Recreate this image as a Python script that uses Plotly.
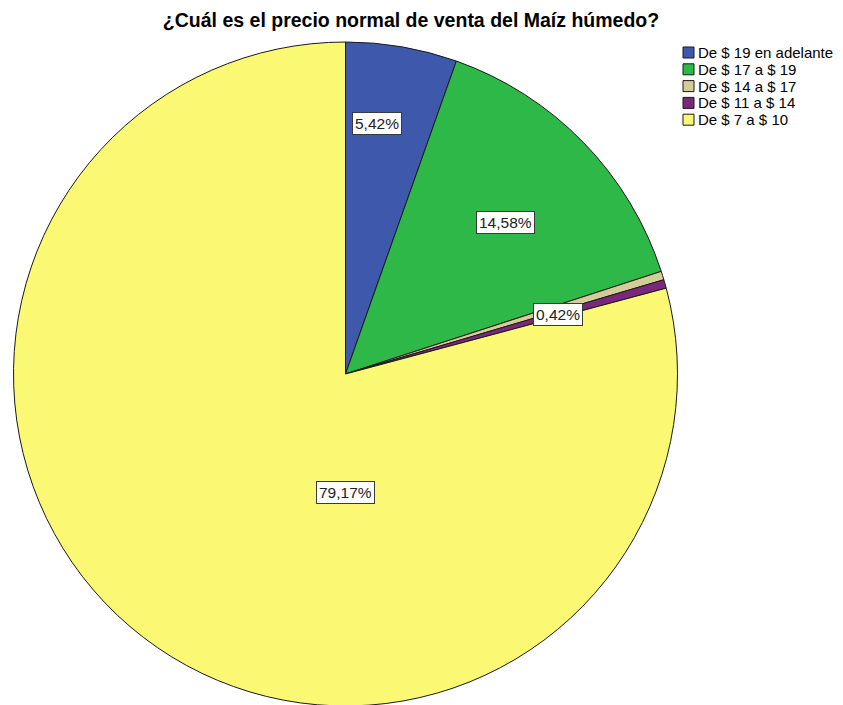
import math
import plotly.graph_objects as go

# ---- data ----
categories = ["De $ 19 en adelante", "De $ 17 a $ 19", "De $ 14 a $ 17", "De $ 11 a $ 14", "De $ 7 a $ 10"]
percentages = [5.42, 14.58, 0.42, 0.42, 79.17]
label_texts = ["5,42%", "14,58%", "", "0,42%", "79,17%"]
colors = ["#3E58AC", "#2EB848", "#D3CE97", "#7B277C", "#FBF873"]

# ---- label placement style (angle clockwise from top in degrees, fraction of radius) ----
label_place = [(7.2, 0.761), (46.6, 0.663), None, (74.4, 0.665), (180.0, 0.358)]

W, H = 835, 705
T, B, L, Rm = 34, 7, 0, 0
PW, PH = W - L - Rm, H - T - B
R = PH / 2
cx = 337.5
cy = T + R
FONT = "Arial, Liberation Sans, sans-serif"


def px2paper(x, y):
    return (x - L) / PW, 1 - (y - T) / PH


fig = go.Figure(go.Pie(
    labels=categories,
    values=percentages,
    sort=False,
    direction="clockwise",
    rotation=0,
    textinfo="none",
    hoverinfo="label+percent",
    marker=dict(colors=colors, line=dict(color="#1a1a1a", width=1)),
    domain=dict(x=[(cx - R) / W, (cx + R) / W], y=[0, 1]),
    showlegend=False,
))

# percentage labels in boxes
for txt, place in zip(label_texts, label_place):
    if place is None or not txt:
        continue
    ang, frac = place
    px = cx + frac * R * math.sin(math.radians(ang))
    py = cy - frac * R * math.cos(math.radians(ang))
    xp, yp = px2paper(px, py)
    fig.add_annotation(
        x=xp, y=yp, xref="paper", yref="paper", text=txt, showarrow=False,
        xanchor="center", yanchor="middle",
        font=dict(family=FONT, size=15.5, color="#222222"),
        bgcolor="white", bordercolor="#3a3a3a", borderwidth=1, borderpad=2,
    )

# legend (drawn as boxes + text)
leg_x, leg_y0, leg_step, sq = 675, 44.5, 16.8, 11
for i, (name, col) in enumerate(zip(categories, colors)):
    yc = leg_y0 + i * leg_step
    x0, y0 = px2paper(leg_x, yc - sq / 2)
    x1, y1 = px2paper(leg_x + sq, yc + sq / 2)
    fig.add_shape(type="rect", xref="paper", yref="paper", x0=x0, x1=x1, y0=y0, y1=y1,
                  fillcolor=col, line=dict(color="#1a1a1a", width=1))
    tx, ty = px2paper(leg_x + sq + 2, yc)
    fig.add_annotation(x=tx, y=ty, xref="paper", yref="paper", text=name, showarrow=False,
                       xanchor="left", yanchor="middle",
                       font=dict(family=FONT, size=15, color="black"))

fig.update_layout(
    width=W, height=H,
    margin=dict(t=T, b=B, l=L, r=Rm),
    paper_bgcolor="white", plot_bgcolor="white",
    showlegend=False,
    title=dict(
        text="<b>¿Cuál es el precio normal de venta del Maíz húmedo?</b>",
        x=403 / W, xanchor="center", xref="container",
        y=1 - 12.5 / H, yanchor="middle", yref="container",
        font=dict(family=FONT, size=19.5, color="black"),
    ),
)

fig.write_html("out.html")
